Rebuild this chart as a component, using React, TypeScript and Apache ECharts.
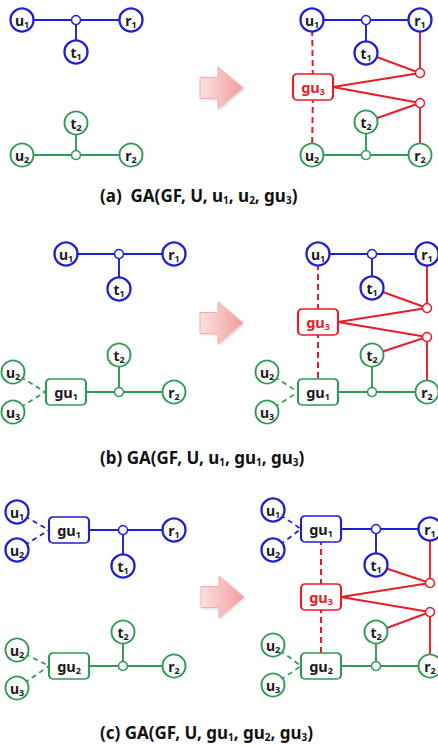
import { useEffect, useRef } from 'react';
import * as echarts from 'echarts';

// node: [id, label, x, y, kind, group]
type N = [string, string, number, number, string, string];
// edge: [source, target, group, style]
type E = [string, string, string, string];

const nodesA: N[] = [
  ['a.u1', 'u1', 22, 20, 'node', 'blue'],
  ['a.j1', '', 76, 20, 'junction', 'blue'],
  ['a.r1', 'r1', 131, 20, 'node', 'blue'],
  ['a.t1', 't1', 76, 52, 'node', 'blue'],
  ['a.t2', 't2', 76, 123, 'node', 'green'],
  ['a.u2', 'u2', 22, 155, 'node', 'green'],
  ['a.j2', '', 76, 155, 'junction', 'green'],
  ['a.r2', 'r2', 131, 155, 'node', 'green'],
  ['A.u1', 'u1', 312, 20, 'node', 'blue'],
  ['A.j1', '', 366, 20, 'junction', 'blue'],
  ['A.r1', 'r1', 420, 20, 'node', 'blue'],
  ['A.t1', 't1', 366, 53, 'node', 'blue'],
  ['A.rj1', '', 420, 73, 'junction', 'red'],
  ['A.gu3', 'gu3', 313, 87, 'box', 'red'],
  ['A.gu3R', '', 333, 87, 'anchor', 'red'],
  ['A.rj2', '', 420, 103, 'junction', 'red'],
  ['A.t2', 't2', 366, 122, 'node', 'green'],
  ['A.u2', 'u2', 312, 155, 'node', 'green'],
  ['A.j2', '', 366, 155, 'junction', 'green'],
  ['A.r2', 'r2', 420, 155, 'node', 'green'],
];
const edgesA: E[] = [
  ['a.u1', 'a.j1', 'blue', 'solid'], ['a.j1', 'a.r1', 'blue', 'solid'], ['a.j1', 'a.t1', 'blue', 'solid'],
  ['a.u2', 'a.j2', 'green', 'solid'], ['a.j2', 'a.r2', 'green', 'solid'], ['a.j2', 'a.t2', 'green', 'solid'],
  ['A.u1', 'A.j1', 'blue', 'solid'], ['A.j1', 'A.r1', 'blue', 'solid'], ['A.j1', 'A.t1', 'blue', 'solid'],
  ['A.r1', 'A.rj1', 'red', 'solid'], ['A.t1', 'A.rj1', 'red', 'solid'], ['A.gu3R', 'A.rj1', 'red', 'solid'],
  ['A.gu3R', 'A.rj2', 'red', 'solid'], ['A.rj2', 'A.t2', 'red', 'solid'], ['A.rj2', 'A.r2', 'red', 'solid'],
  ['A.u1', 'A.gu3', 'red', 'dashed'], ['A.gu3', 'A.u2', 'red', 'dashed'],
  ['A.u2', 'A.j2', 'green', 'solid'], ['A.j2', 'A.r2', 'green', 'solid'], ['A.j2', 'A.t2', 'green', 'solid'],
];

const nodesB: N[] = [
  ['b.u1', 'u1', 66, 254, 'node', 'blue'],
  ['b.j1', '', 119, 254, 'junction', 'blue'],
  ['b.r1', 'r1', 174, 254, 'node', 'blue'],
  ['b.t1', 't1', 119, 289, 'node', 'blue'],
  ['b.t2', 't2', 119, 355, 'node', 'green'],
  ['b.u2', 'u2', 13, 372, 'node', 'green'],
  ['b.u3', 'u3', 13, 412, 'node', 'green'],
  ['b.gu1', 'gu1', 66, 392, 'box', 'green'],
  ['b.gu1L', '', 45, 392, 'anchor', 'green'],
  ['b.j2', '', 119, 392, 'junction', 'green'],
  ['b.r2', 'r2', 174, 392, 'node', 'green'],
  ['B.u1', 'u1', 318, 254, 'node', 'blue'],
  ['B.j1', '', 372, 254, 'junction', 'blue'],
  ['B.r1', 'r1', 427, 254, 'node', 'blue'],
  ['B.t1', 't1', 372, 288, 'node', 'blue'],
  ['B.rj1', '', 427, 308, 'junction', 'red'],
  ['B.gu3', 'gu3', 318, 322, 'box', 'red'],
  ['B.gu3R', '', 338, 322, 'anchor', 'red'],
  ['B.rj2', '', 427, 337, 'junction', 'red'],
  ['B.t2', 't2', 372, 355, 'node', 'green'],
  ['B.u2', 'u2', 267, 372, 'node', 'green'],
  ['B.u3', 'u3', 267, 412, 'node', 'green'],
  ['B.gu1', 'gu1', 318, 392, 'box', 'green'],
  ['B.gu1L', '', 298, 392, 'anchor', 'green'],
  ['B.j2', '', 372, 392, 'junction', 'green'],
  ['B.r2', 'r2', 427, 392, 'node', 'green'],
];
const edgesB: E[] = [
  ['b.u1', 'b.j1', 'blue', 'solid'], ['b.j1', 'b.r1', 'blue', 'solid'], ['b.j1', 'b.t1', 'blue', 'solid'],
  ['b.u2', 'b.gu1L', 'green', 'dashed'], ['b.u3', 'b.gu1L', 'green', 'dashed'],
  ['b.gu1', 'b.j2', 'green', 'solid'], ['b.j2', 'b.r2', 'green', 'solid'], ['b.j2', 'b.t2', 'green', 'solid'],
  ['B.u1', 'B.j1', 'blue', 'solid'], ['B.j1', 'B.r1', 'blue', 'solid'], ['B.j1', 'B.t1', 'blue', 'solid'],
  ['B.r1', 'B.rj1', 'red', 'solid'], ['B.t1', 'B.rj1', 'red', 'solid'], ['B.gu3R', 'B.rj1', 'red', 'solid'],
  ['B.gu3R', 'B.rj2', 'red', 'solid'], ['B.rj2', 'B.t2', 'red', 'solid'], ['B.rj2', 'B.r2', 'red', 'solid'],
  ['B.u1', 'B.gu3', 'red', 'dashed'], ['B.gu3', 'B.gu1', 'red', 'dashed'],
  ['B.u2', 'B.gu1L', 'green', 'dashed'], ['B.u3', 'B.gu1L', 'green', 'dashed'],
  ['B.gu1', 'B.j2', 'green', 'solid'], ['B.j2', 'B.r2', 'green', 'solid'], ['B.j2', 'B.t2', 'green', 'solid'],
];

const nodesC: N[] = [
  ['c.u1', 'u1', 17, 512, 'node', 'blue'],
  ['c.u2b', 'u2', 17, 550, 'node', 'blue'],
  ['c.gu1', 'gu1', 69, 530, 'box', 'blue'],
  ['c.gu1L', '', 49, 530, 'anchor', 'blue'],
  ['c.j1', '', 123, 530, 'junction', 'blue'],
  ['c.r1', 'r1', 174, 530, 'node', 'blue'],
  ['c.t1', 't1', 123, 566, 'node', 'blue'],
  ['c.t2', 't2', 123, 632, 'node', 'green'],
  ['c.u2g', 'u2', 17, 650, 'node', 'green'],
  ['c.u3', 'u3', 17, 688, 'node', 'green'],
  ['c.gu2', 'gu2', 69, 666, 'box', 'green'],
  ['c.gu2L', '', 49, 666, 'anchor', 'green'],
  ['c.j2', '', 123, 666, 'junction', 'green'],
  ['c.r2', 'r2', 174, 666, 'node', 'green'],
  ['C.u1', 'u1', 273, 510, 'node', 'blue'],
  ['C.u2b', 'u2', 273, 550, 'node', 'blue'],
  ['C.gu1', 'gu1', 321, 529, 'box', 'blue'],
  ['C.gu1L', '', 301, 529, 'anchor', 'blue'],
  ['C.j1', '', 376, 529, 'junction', 'blue'],
  ['C.r1', 'r1', 430, 529, 'node', 'blue'],
  ['C.t1', 't1', 376, 565, 'node', 'blue'],
  ['C.rj1', '', 430, 583, 'junction', 'red'],
  ['C.gu3', 'gu3', 321, 597, 'box', 'red'],
  ['C.gu3R', '', 341, 597, 'anchor', 'red'],
  ['C.rj2', '', 430, 612, 'junction', 'red'],
  ['C.t2', 't2', 376, 632, 'node', 'green'],
  ['C.u2g', 'u2', 273, 645, 'node', 'green'],
  ['C.u3', 'u3', 273, 685, 'node', 'green'],
  ['C.gu2', 'gu2', 321, 666, 'box', 'green'],
  ['C.gu2L', '', 301, 666, 'anchor', 'green'],
  ['C.j2', '', 376, 666, 'junction', 'green'],
  ['C.r2', 'r2', 430, 666, 'node', 'green'],
];
const edgesC: E[] = [
  ['c.u1', 'c.gu1L', 'blue', 'dashed'], ['c.u2b', 'c.gu1L', 'blue', 'dashed'],
  ['c.gu1', 'c.j1', 'blue', 'solid'], ['c.j1', 'c.r1', 'blue', 'solid'], ['c.j1', 'c.t1', 'blue', 'solid'],
  ['c.u2g', 'c.gu2L', 'green', 'dashed'], ['c.u3', 'c.gu2L', 'green', 'dashed'],
  ['c.gu2', 'c.j2', 'green', 'solid'], ['c.j2', 'c.r2', 'green', 'solid'], ['c.j2', 'c.t2', 'green', 'solid'],
  ['C.u1', 'C.gu1L', 'blue', 'dashed'], ['C.u2b', 'C.gu1L', 'blue', 'dashed'],
  ['C.gu1', 'C.j1', 'blue', 'solid'], ['C.j1', 'C.r1', 'blue', 'solid'], ['C.j1', 'C.t1', 'blue', 'solid'],
  ['C.r1', 'C.rj1', 'red', 'solid'], ['C.t1', 'C.rj1', 'red', 'solid'], ['C.gu3R', 'C.rj1', 'red', 'solid'],
  ['C.gu3R', 'C.rj2', 'red', 'solid'], ['C.rj2', 'C.t2', 'red', 'solid'], ['C.rj2', 'C.r2', 'red', 'solid'],
  ['C.gu1', 'C.gu3', 'red', 'dashed'], ['C.gu3', 'C.gu2', 'red', 'dashed'],
  ['C.u2g', 'C.gu2L', 'green', 'dashed'], ['C.u3', 'C.gu2L', 'green', 'dashed'],
  ['C.gu2', 'C.j2', 'green', 'solid'], ['C.j2', 'C.r2', 'green', 'solid'], ['C.j2', 'C.t2', 'green', 'solid'],
];

const captions = ['(a)  GA(GF, U, u_1, u_2, gu_3)', '(b) GA(GF, U, u_1, gu_1, gu_3)', '(c) GA(GF, U, gu_1, gu_2, gu_3)'];
const captionAnchors: [number, number][] = [[100, 195], [100, 457], [100, 732]];
const arrowAnchors: [number, number][] = [[221, 88], [221, 323], [222, 597]];

const COLORS: Record<string, string> = { blue: '#1e1ed2', green: '#2e9a55', red: '#e81c26' };
const BOX_PATH = 'path://M4,0H36A4,4,0,0,1,40,4V22A4,4,0,0,1,36,26H4A4,4,0,0,1,0,22V4A4,4,0,0,1,4,0Z';
const FONT = 'Noto Sans';

function nodeLabel(label: string, kind: string, group: string) {
  const m = label.match(/^([a-z]+)(\d)$/);
  if (!m) return label;
  const key = (kind === 'box' ? 'b' : 'c') + (kind === 'box' && group === 'red' ? 'r' : '');
  return `{m${key}|${m[1]}}{s${key}|${m[2]}}`;
}

function captionText(c: string) {
  return '{cm|' + c.replace(/_(\d)/g, '}{cs|$1}{cm|') + '}';
}

export default function App() {
  const ref = useRef<HTMLDivElement>(null);
  useEffect(() => {
    if (!ref.current) return;
    const chart = echarts.init(ref.current, undefined, { renderer: 'svg' });
    const allNodes = [...nodesA, ...nodesB, ...nodesC];
    const allEdges = [...edgesA, ...edgesB, ...edgesC];
    const dark = '#1a1a1a';
    const red = COLORS.red;
    const rich: any = {
      mc: { fontFamily: FONT, fontSize: 14, fontWeight: 'bold', color: dark, lineHeight: 18 },
      sc: { fontFamily: FONT, fontSize: 9, fontWeight: 'bold', color: dark, lineHeight: 8, verticalAlign: 'bottom' },
      mb: { fontFamily: FONT, fontSize: 14.5, fontWeight: 'bold', color: dark, lineHeight: 18 },
      sb: { fontFamily: FONT, fontSize: 9, fontWeight: 'bold', color: dark, lineHeight: 8, verticalAlign: 'bottom' },
      mbr: { fontFamily: FONT, fontSize: 14.5, fontWeight: 'bold', color: red, lineHeight: 18 },
      sbr: { fontFamily: FONT, fontSize: 9, fontWeight: 'bold', color: red, lineHeight: 8, verticalAlign: 'bottom' },
    };
    const data = allNodes.map(([id, label, x, y, kind, group]) => {
      const color = COLORS[group];
      if (kind === 'anchor') {
        return { name: id, value: [x, y], symbol: 'none', symbolSize: 0, label: { show: false } };
      }
      if (kind === 'junction') {
        return {
          name: id, value: [x, y], symbol: 'circle', symbolSize: 9,
          itemStyle: { color: '#fff', borderColor: color, borderWidth: 1.5 }, label: { show: false },
        };
      }
      if (kind === 'box') {
        return {
          name: id, value: [x, y], symbol: BOX_PATH, symbolSize: [40, 26],
          itemStyle: { color: '#fff', borderColor: color, borderWidth: 1.7 },
          label: { show: true, formatter: nodeLabel(label, kind, group) },
        };
      }
      return {
        name: id, value: [x, y], symbol: 'circle', symbolSize: 23,
        itemStyle: { color: '#fff', borderColor: color, borderWidth: group === 'blue' ? 2.3 : 1.9 },
        label: { show: true, formatter: nodeLabel(label, kind, group) },
      };
    });
    const links = allEdges.map(([s, t, group, style]) => ({
      source: s, target: t,
      lineStyle: {
        color: COLORS[group], width: style === 'dashed' ? (group === 'red' ? 2 : 1.7) : 1.9,
        type: style === 'dashed' ? (group === 'red' ? [6, 4] : [5, 4]) : 'solid', opacity: 1, curveness: 0,
      },
    }));
    chart.setOption({
      animation: false,
      backgroundColor: '#ffffff',
      grid: { left: 0, top: 0, width: 438, height: 746, containLabel: false },
      xAxis: { type: 'value', min: 0, max: 438, show: false },
      yAxis: { type: 'value', min: 0, max: 746, inverse: true, show: false },
      series: [{
        type: 'graph', coordinateSystem: 'cartesian2d', layout: 'none', silent: true,
        data, links, edgeSymbol: ['none', 'none'],
        label: { position: 'inside', rich },
        emphasis: { disabled: true },
      }],
    });
    const graphic: any[] = [];
    arrowAnchors.forEach(([ax, ay]) => {
      const [px, py] = chart.convertToPixel({ gridIndex: 0 }, [ax, ay]) as number[];
      graphic.push({
        type: 'polygon',
        shape: {
          points: [
            [px - 21, py - 10.5], [px - 3, py - 10.5], [px - 3, py - 21], [px + 22, py],
            [px - 3, py + 21], [px - 3, py + 10.5], [px - 21, py + 10.5],
          ],
        },
        style: {
          fill: new echarts.graphic.LinearGradient(0, 0, 1, 0, [
            { offset: 0, color: '#fbe0e0' }, { offset: 1, color: '#f39c9c' },
          ]),
          stroke: '#efb0b0', lineWidth: 1,
          shadowBlur: 3, shadowColor: 'rgba(0,0,0,0.15)', shadowOffsetX: 1, shadowOffsetY: 1,
        },
        silent: true,
      });
    });
    captions.forEach((c, i) => {
      const [px, py] = chart.convertToPixel({ gridIndex: 0 }, captionAnchors[i]) as number[];
      graphic.push({
        type: 'text', x: px, y: py, silent: true,
        style: {
          text: captionText(c), align: 'left', verticalAlign: 'middle',
          rich: {
            cm: { fontFamily: FONT, fontSize: 17, fontWeight: 'bold', fill: '#111', lineHeight: 20 },
            cs: { fontFamily: FONT, fontSize: 10, fontWeight: 'bold', fill: '#111', lineHeight: 9, verticalAlign: 'bottom' },
          },
        },
      });
    });
    chart.setOption({ graphic });
    return () => chart.dispose();
  }, []);
  return (
    <div
      ref={ref}
      style={{ position: 'absolute', left: 0, top: 0, width: 438, height: 746, background: '#fff' }}
    />
  );
}
